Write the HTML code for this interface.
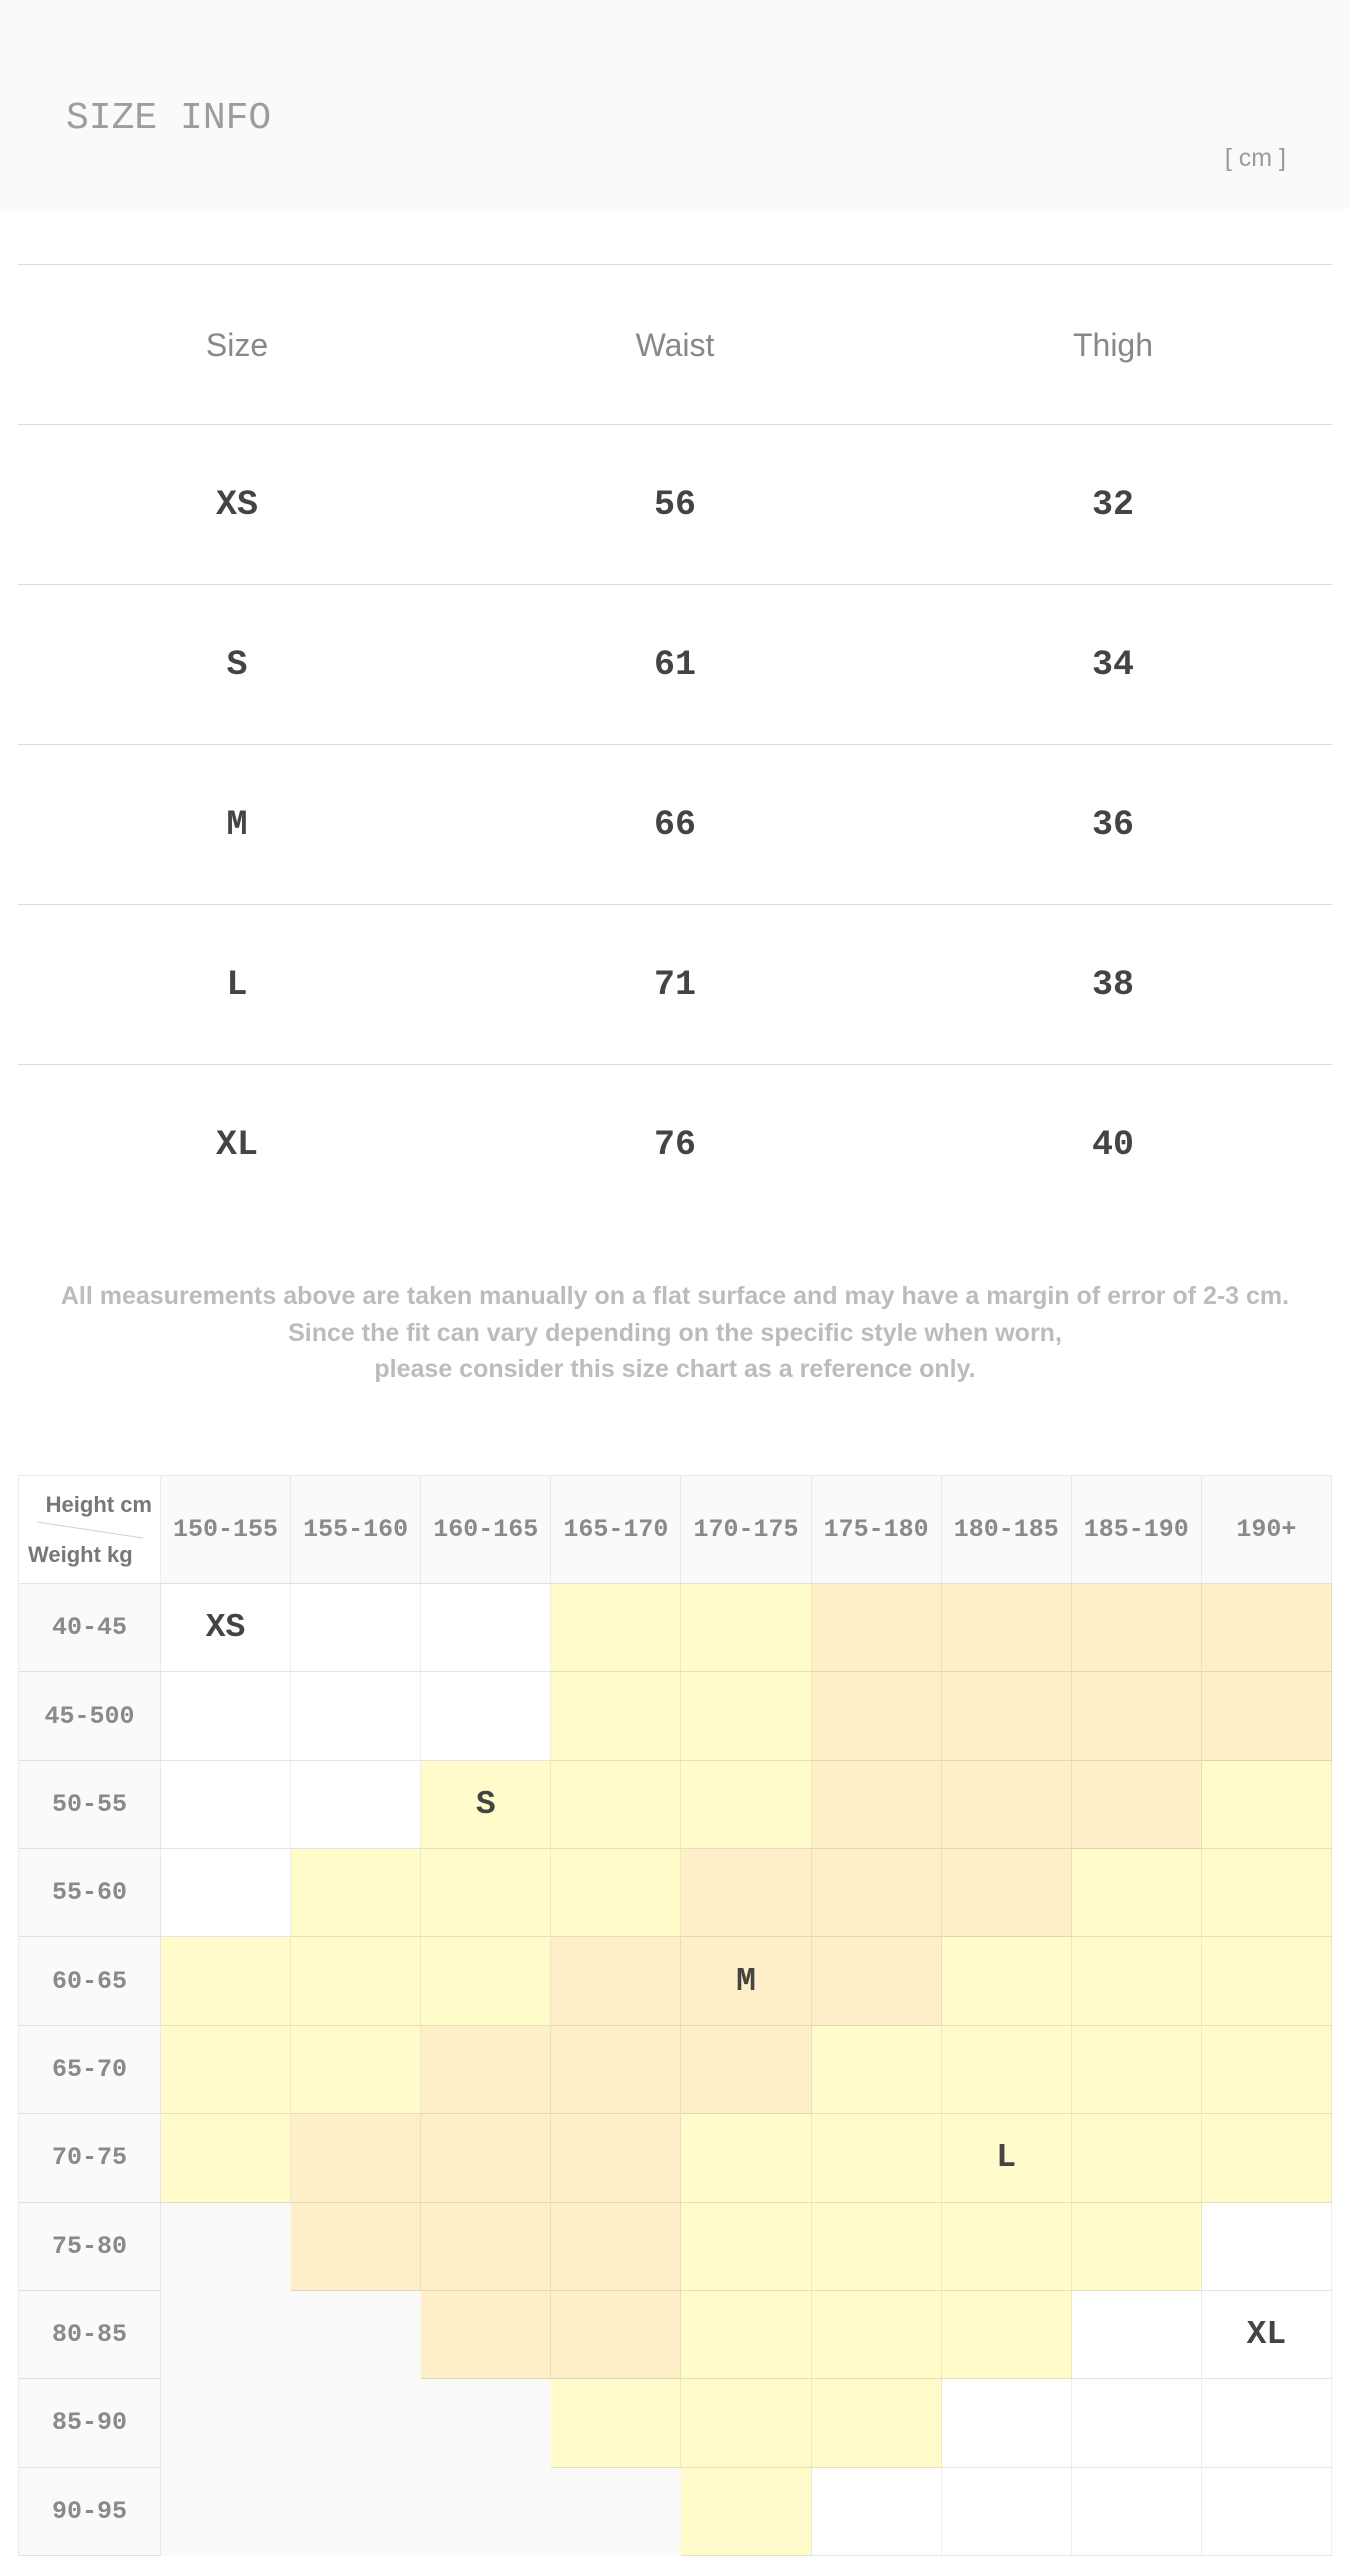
<!DOCTYPE html>
<html>
<head>
<meta charset="utf-8">
<style>
  html, body { margin:0; padding:0; }
  body { width:1350px; height:2556px; position:relative; background:#fff; overflow:hidden;
         font-family:"Liberation Sans", sans-serif; }
  .hdr { position:absolute; left:0; top:0; width:1350px; height:209px; background:#fafafa; }
  .title { position:absolute; left:66px; top:99px; font-family:"Liberation Mono", monospace;
           font-size:38px; line-height:39px; color:#9d9d9d; white-space:nowrap; }
  .unit { position:absolute; right:64px; top:146px; font-size:25px; line-height:25px; color:#9a9a9a; white-space:nowrap; }
  .hline { position:absolute; left:18px; width:1314px; height:1px; background:#dcdcdc; }
  .trow { position:absolute; left:18px; width:1314px; height:160px; display:flex; }
  .trow div { width:438px; display:flex; align-items:center; justify-content:center; }
  .th div { font-size:32px; color:#888; }
  .td div { font-family:"Liberation Mono", monospace; font-weight:bold; font-size:35px; color:#444; }
  .note { position:absolute; left:0; top:1278px; width:1350px; text-align:center; font-weight:bold;
          font-size:25px; line-height:36.7px; color:#bcbcbc; }
  .grid { position:absolute; left:18px; top:1475px; width:1315px; height:1081px; box-sizing:border-box;
          border-top:1px solid #ebebeb; border-left:1px solid #ebebeb;
          display:grid; grid-template-columns:142px repeat(9, 130.111px);
          grid-template-rows:108px repeat(11, 88.3636px); }
  .grid > div { box-sizing:border-box; border-right:1px solid rgba(0,0,0,0.07); border-bottom:1px solid rgba(0,0,0,0.1);
                display:flex; align-items:center; justify-content:center; }
  .grid > .h { background:#fafafa; font-family:"Liberation Mono", monospace; font-weight:bold; font-size:25px; color:#8a8a8a; }
  .grid > .l { background:#fafafa; font-family:"Liberation Mono", monospace; font-weight:bold; font-size:25px; color:#8a8a8a; }
  .grid > .c { background:#fff; position:relative; }
  .grid > .W { background:#fff; }
  .grid > .Y { background:#fffbcb; }
  .grid > .O { background:#ffefc8; }
  .grid > .G { background:#fafafa; border:none; }
  .sz { font-family:"Liberation Mono", monospace; font-weight:bold; font-size:33px; color:#444; }
  .c .hc { position:absolute; right:8px; top:18px; font-weight:bold; font-size:22px; line-height:22px; color:#777; white-space:nowrap; }
  .c .wk { position:absolute; left:9px; top:68px; font-weight:bold; font-size:22px; line-height:22px; color:#777; white-space:nowrap; }
  .c svg { position:absolute; left:0; top:0; }
</style>
</head>
<body>
  <div class="hdr"></div>
  <div class="title">SIZE INFO</div>
  <div class="unit">[ cm ]</div>

  <div class="hline" style="top:264px"></div>
  <div class="hline" style="top:424px"></div>
  <div class="hline" style="top:584px"></div>
  <div class="hline" style="top:744px"></div>
  <div class="hline" style="top:904px"></div>
  <div class="hline" style="top:1064px"></div>

  <div class="trow th" style="top:265px"><div>Size</div><div>Waist</div><div>Thigh</div></div>
  <div class="trow td" style="top:425px"><div>XS</div><div>56</div><div>32</div></div>
  <div class="trow td" style="top:585px"><div>S</div><div>61</div><div>34</div></div>
  <div class="trow td" style="top:745px"><div>M</div><div>66</div><div>36</div></div>
  <div class="trow td" style="top:905px"><div>L</div><div>71</div><div>38</div></div>
  <div class="trow td" style="top:1065px"><div>XL</div><div>76</div><div>40</div></div>

  <div class="note">All measurements above are taken manually on a flat surface and may have a margin of error of 2-3 cm.<br>Since the fit can vary depending on the specific style when worn,<br>please consider this size chart as a reference only.</div>

  <div class="grid">
    <div class="c">
      <span class="hc">Height cm</span>
      <svg width="142" height="108"><line x1="18" y1="46" x2="124" y2="62" stroke="#d0d0d0" stroke-width="1"/></svg>
      <span class="wk">Weight kg</span>
    </div>
    <div class="h">150-155</div><div class="h">155-160</div><div class="h">160-165</div><div class="h">165-170</div>
    <div class="h">170-175</div><div class="h">175-180</div><div class="h">180-185</div><div class="h">185-190</div><div class="h">190+</div>

    <div class="l">40-45</div>
    <div class="W"><span class="sz">XS</span></div><div class="W"></div><div class="W"></div><div class="Y"></div><div class="Y"></div><div class="O"></div><div class="O"></div><div class="O"></div><div class="O"></div>

    <div class="l">45-500</div>
    <div class="W"></div><div class="W"></div><div class="W"></div><div class="Y"></div><div class="Y"></div><div class="O"></div><div class="O"></div><div class="O"></div><div class="O"></div>

    <div class="l">50-55</div>
    <div class="W"></div><div class="W"></div><div class="Y"><span class="sz">S</span></div><div class="Y"></div><div class="Y"></div><div class="O"></div><div class="O"></div><div class="O"></div><div class="Y"></div>

    <div class="l">55-60</div>
    <div class="W"></div><div class="Y"></div><div class="Y"></div><div class="Y"></div><div class="O"></div><div class="O"></div><div class="O"></div><div class="Y"></div><div class="Y"></div>

    <div class="l">60-65</div>
    <div class="Y"></div><div class="Y"></div><div class="Y"></div><div class="O"></div><div class="O"><span class="sz">M</span></div><div class="O"></div><div class="Y"></div><div class="Y"></div><div class="Y"></div>

    <div class="l">65-70</div>
    <div class="Y"></div><div class="Y"></div><div class="O"></div><div class="O"></div><div class="O"></div><div class="Y"></div><div class="Y"></div><div class="Y"></div><div class="Y"></div>

    <div class="l">70-75</div>
    <div class="Y"></div><div class="O"></div><div class="O"></div><div class="O"></div><div class="Y"></div><div class="Y"></div><div class="Y"><span class="sz">L</span></div><div class="Y"></div><div class="Y"></div>

    <div class="l">75-80</div>
    <div class="G"></div><div class="O"></div><div class="O"></div><div class="O"></div><div class="Y"></div><div class="Y"></div><div class="Y"></div><div class="Y"></div><div class="W"></div>

    <div class="l">80-85</div>
    <div class="G"></div><div class="G"></div><div class="O"></div><div class="O"></div><div class="Y"></div><div class="Y"></div><div class="Y"></div><div class="W"></div><div class="W"><span class="sz">XL</span></div>

    <div class="l">85-90</div>
    <div class="G"></div><div class="G"></div><div class="G"></div><div class="Y"></div><div class="Y"></div><div class="Y"></div><div class="W"></div><div class="W"></div><div class="W"></div>

    <div class="l">90-95</div>
    <div class="G"></div><div class="G"></div><div class="G"></div><div class="G"></div><div class="Y"></div><div class="W"></div><div class="W"></div><div class="W"></div><div class="W"></div>
  </div>
</body>
</html>
